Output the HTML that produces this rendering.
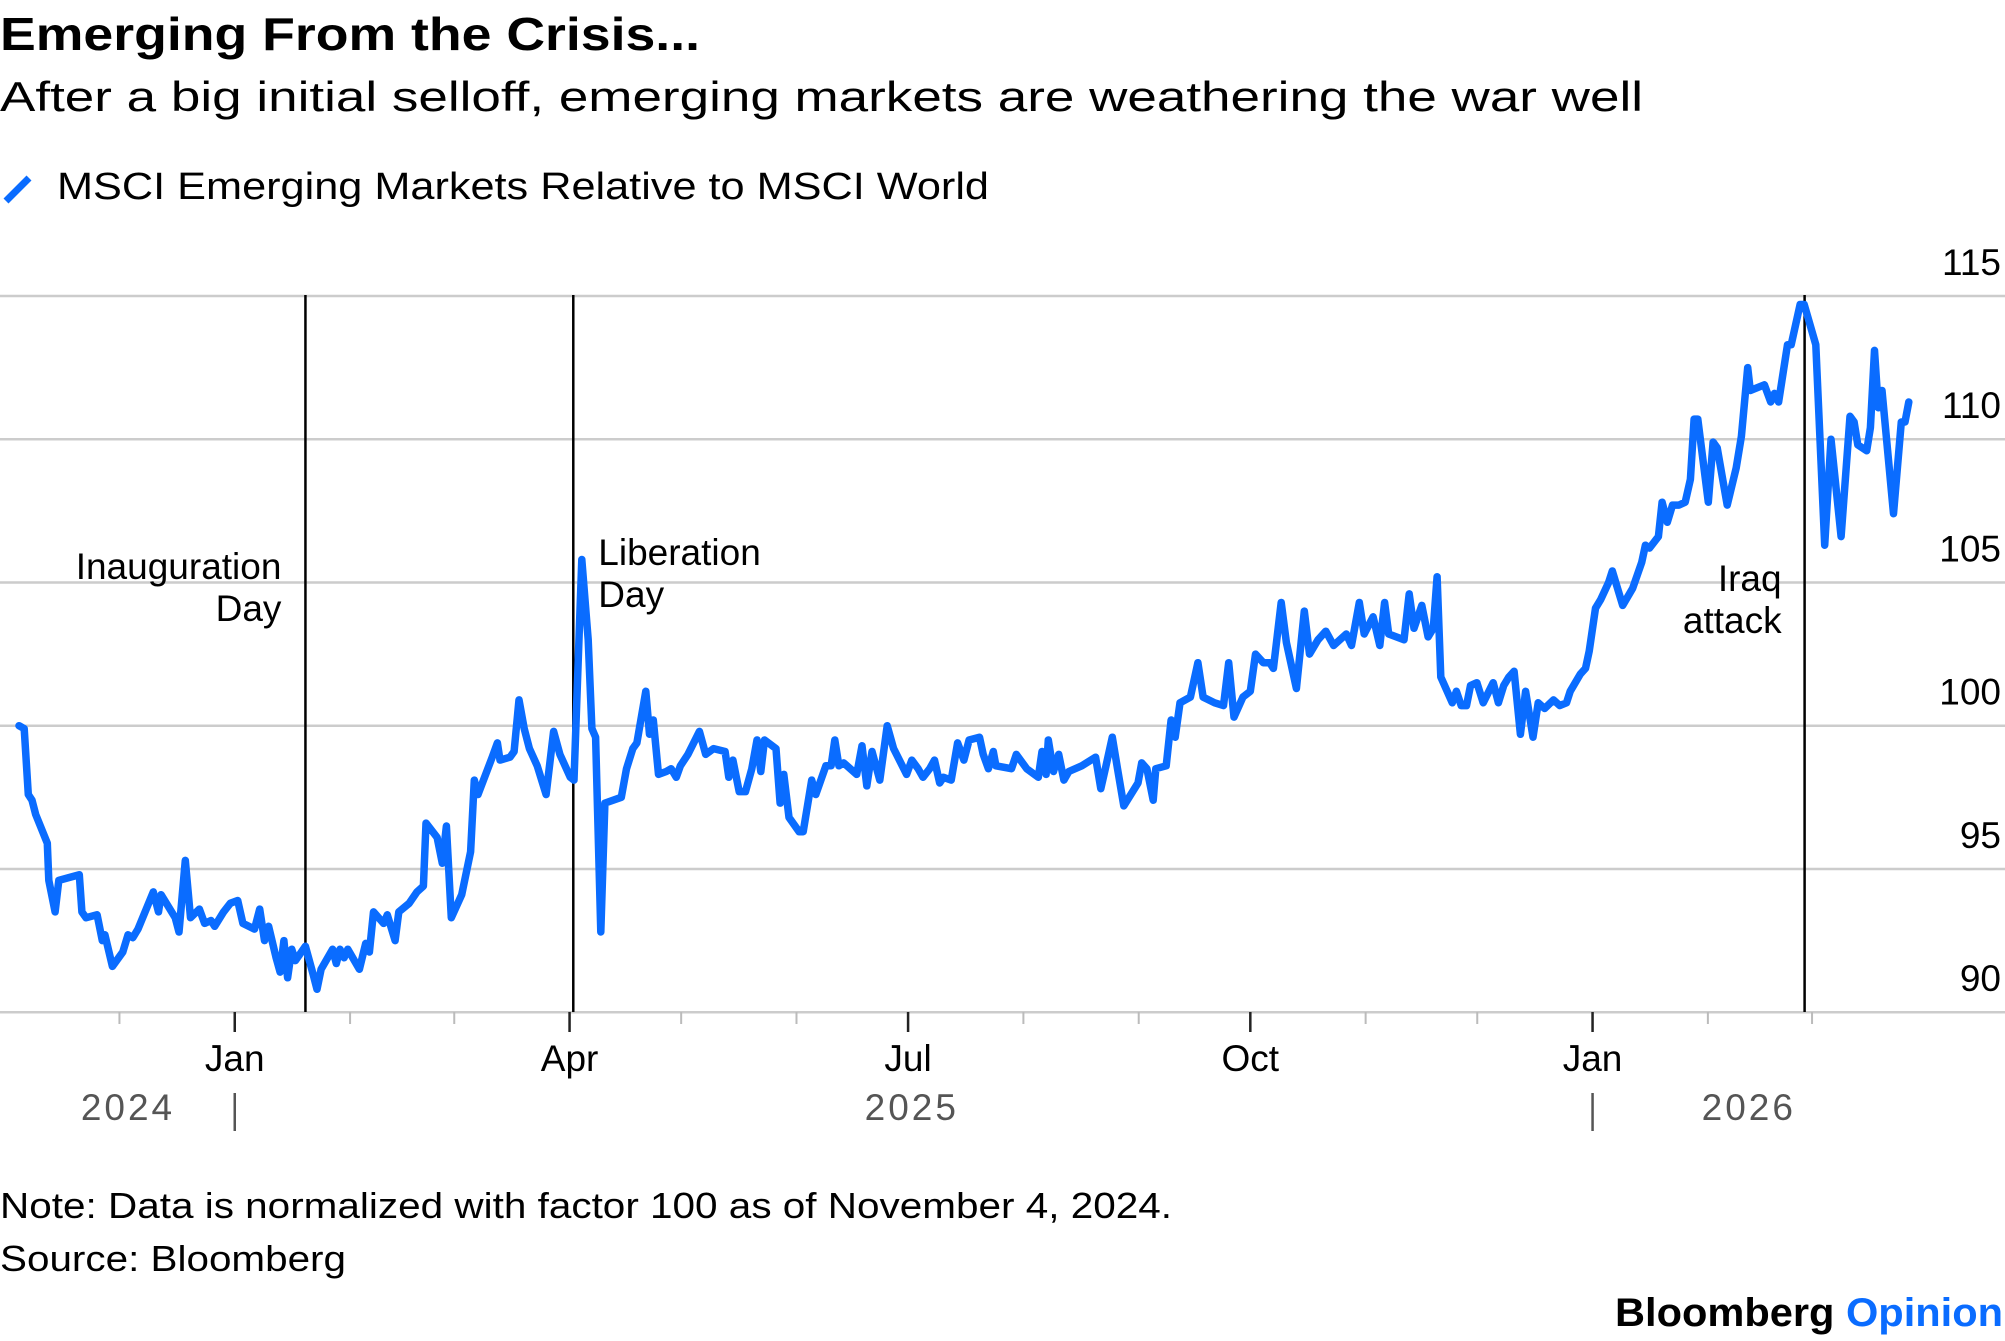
<!DOCTYPE html>
<html><head><meta charset="utf-8">
<style>
html,body{margin:0;padding:0;background:#fff;}
body{width:2005px;height:1341px;overflow:hidden;font-family:"Liberation Sans",sans-serif;}
svg{display:block;}
</style></head>
<body>
<svg id="chart" width="2005" height="1341" viewBox="0 0 2005 1341" xmlns="http://www.w3.org/2000/svg" font-family="Liberation Sans, sans-serif">
  <text x="0" y="50" font-size="46" font-weight="bold" fill="#000" textLength="700" lengthAdjust="spacingAndGlyphs">Emerging From the Crisis...</text>
  <text x="0" y="111" font-size="42" fill="#000" textLength="1643" lengthAdjust="spacingAndGlyphs">After a big initial selloff, emerging markets are weathering the war well</text>
  <g>
    <line x1="6" y1="201" x2="29" y2="178" stroke="#0a6cff" stroke-width="7"/>
    <text x="57" y="199" font-size="38" fill="#000" textLength="932" lengthAdjust="spacingAndGlyphs">MSCI Emerging Markets Relative to MSCI World</text>
  </g>
  <g id="grid"></g>
  <g id="yaxis"></g>
  <g id="xaxis"></g>
  <g id="events"></g>
  <g id="series"></g>
  <text x="0" y="1218" font-size="36" fill="#000" textLength="1172" lengthAdjust="spacingAndGlyphs">Note: Data is normalized with factor 100 as of November 4, 2024.</text>
  <text x="0" y="1271" font-size="36" fill="#000" textLength="346" lengthAdjust="spacingAndGlyphs">Source: Bloomberg</text>
  <text x="2003" y="1326" font-size="40" font-weight="bold" text-anchor="end" textLength="388" lengthAdjust="spacingAndGlyphs"><tspan fill="#000">Bloomberg </tspan><tspan fill="#0a6cff">Opinion</tspan></text>
</svg>
<script>
// data: day offset from 2024-11-04, value (normalized)
const days = [0,1.4,2.5,3.5,4.5,7.6,8,9.7,10.7,13.5,16.2,16.9,18,21,22.4,23.1,25.1,27.9,29.3,30.6,32,36.1,37.5,38.2,42,43,44.7,46.1,48.5,49.9,51.6,52.6,55,56.8,58.8,60.2,63.3,64.7,66,67.1,69.1,70.2,71.2,72.2,73.3,74.3,77,79.1,80.1,81.2,84.3,85.3,86.3,87.4,88.4,91.5,93.2,94.2,95.3,98,99,101.1,102.1,104.9,107,108.7,109.4,112.4,113.8,114.9,116.2,119,121.4,122.4,123.4,127.2,128.6,129.3,132,133.1,134.4,135.8,137.2,139.3,141.7,143.7,145.4,148.2,149.2,151.3,153,154,155,156.4,157.5,161.9,163.3,165,166.1,168.5,169.5,170.5,171.9,174,175.3,176.7,177.8,179.8,182.9,184.6,186.7,189.8,190.8,191.9,193.6,195.3,197,198.4,199.4,200.4,203.5,204.6,205.6,207,209.7,210.8,213.1,214.2,216.9,218.3,219.3,220.4,221.7,225.2,226.6,227.9,229.3,231.4,233.4,235.1,238.6,240,241.7,243,244.8,246.1,247.5,248.5,250.6,252.3,254,255.4,258.2,259.2,260.6,261.9,262.6,266.8,268.1,270.9,274,275,276.1,276.7,278.1,279.5,280.9,282.2,285.7,289.4,290.8,292.2,293.9,295.3,297,300.8,301.8,303.2,304.9,305.6,308.4,309.7,310.8,312.1,314.9,316.9,318.3,321.4,323.8,325.2,326.6,329,331,332.4,334.5,336.2,337.2,339.3,340.7,343.4,345.5,346.9,349.2,351.3,353.4,356.8,358.2,360.3,361.6,364,365.8,367.1,368.2,372.3,373.7,375,377.1,378.8,380.2,381.2,382.2,385.3,386.4,387.7,389.1,390.2,391.9,393.6,396.3,397.7,399.1,400.5,401.9,403.6,405,407,408.4,410.1,412.5,414.2,416,417,419.7,421.1,422.1,423.8,425.2,427.3,428.3,431.1,433.8,436.2,437.2,438.3,440.7,441.7,443.1,444.5,446.2,447.9,449.3,450.3,451.3,454.1,455.4,456.5,459.2,461.6,463,464.7,465.4,469.2,470.9,471.9,473,475.4,476.4,478.8,479.9,483,485.4,487.1,489.8,492.2,493.3,494.3,496.7,497.7,498.8,499.8,500.8,503.9,506,507,508];
const values = [100,99.9,97.6,97.4,96.9,95.9,94.6,93.5,94.6,94.7,94.8,93.5,93.3,93.4,92.5,92.7,91.6,92.1,92.7,92.6,92.9,94.2,93.5,94.1,93.3,92.8,95.3,93.3,93.6,93.1,93.2,93.0,93.5,93.8,93.9,93.1,92.9,93.6,92.5,93.0,91.9,91.4,92.5,91.2,92.2,91.8,92.3,91.3,90.8,91.5,92.2,91.7,92.2,91.9,92.2,91.5,92.4,92.1,93.5,93.1,93.4,92.5,93.5,93.8,94.2,94.4,96.6,96.1,95.2,96.5,93.3,94.1,95.6,98.1,97.6,98.9,99.4,98.8,98.9,99.1,100.9,99.9,99.2,98.6,97.6,99.8,99.0,98.2,98.1,105.8,103.0,99.9,99.6,92.8,97.3,97.5,98.5,99.2,99.4,101.2,99.7,100.2,98.3,98.4,98.5,98.2,98.6,99.0,99.8,99.0,99.2,99.1,98.2,98.8,97.7,97.7,98.5,99.5,98.4,99.5,99.2,97.3,98.3,96.8,96.3,96.3,98.1,97.6,98.6,98.6,99.5,98.6,98.7,98.3,99.3,97.9,99.1,98.1,100.0,99.2,98.3,98.8,98.5,98.2,98.5,98.8,98.0,98.2,98.1,99.4,98.8,99.5,99.6,99.0,98.5,99.1,98.6,98.5,99.0,98.5,98.2,99.1,98.3,99.5,98.4,99.0,98.1,98.4,98.6,98.9,97.8,98.6,99.6,98.5,97.2,98.0,98.7,98.5,97.4,98.5,98.6,100.2,99.6,100.8,101.0,102.2,101.0,100.8,100.7,102.2,100.3,101.0,101.2,102.5,102.2,102.2,102.0,104.3,102.9,101.3,104.0,102.5,103.0,103.3,102.8,103.2,102.8,104.3,103.2,103.8,102.8,104.3,103.2,103.0,104.6,103.4,104.2,103.1,103.4,105.2,101.7,100.8,101.2,100.7,100.7,101.4,101.5,100.8,101.5,100.8,101.4,101.7,101.9,99.7,101.2,99.6,100.8,100.6,100.9,100.7,100.8,101.2,101.8,102.0,102.6,104.1,104.4,105.0,105.4,104.2,104.8,105.7,106.3,106.2,106.6,107.8,107.1,107.7,107.7,107.8,108.6,110.7,110.7,107.8,109.9,109.7,107.7,109.0,110.1,112.5,111.7,111.9,111.3,111.6,111.3,113.3,113.3,114.7,114.7,113.3,106.3,110.0,106.6,110.8,110.6,109.8,109.6,110.4,113.1,111.1,111.7,107.4,110.6,110.6,111.3];
const yTicks = [90,95,100,105,110,115];
const monthTickDays = [27,58,89,117,148,178,209,239,270,301,331,362,392,423,454,482];
const monthLabels = ["","Jan","","","Apr","","","Jul","","","Oct","","","Jan","",""];
const yearLabels = ["2024","2025","2026"];
const yearLabelDays = [29.3,240,465];
const yearSepDays = [58,423];
const eventDays = [77,149,480];
const eventNames = ["Inauguration Day","Liberation Day","Iraq attack"];

const NS = "http://www.w3.org/2000/svg";
function x(d){ return 19 + d*3.72; }
function y(v){ return 725.7 - (v-100)*28.65; }
function mk(tag, attrs, parent, txt){
  const el = document.createElementNS(NS, tag);
  for (const k in attrs) el.setAttribute(k, attrs[k]);
  if (txt !== undefined) el.textContent = txt;
  parent.appendChild(el);
  return el;
}
const grid = document.getElementById('grid');
const yaxis = document.getElementById('yaxis');
yTicks.forEach(v => {
  const g = mk('line', {x1:0, x2:2005, y1:y(v), y2:y(v), stroke:'#cccccc', 'stroke-width':2.5}, grid);
  
  
  const t = mk('text', {x:2001, y:y(v)-21, 'font-size':37, 'text-anchor':'end', fill:'#000'}, yaxis, String(v));
  
  
});
const xaxis = document.getElementById('xaxis');
monthTickDays.forEach((d, i) => {
  const major = monthLabels[i] !== "";
  const tk = mk('line', {x1:x(d), x2:x(d), y1:1012, y2: major ? 1032 : 1024, stroke: major ? '#222' : '#bbb', 'stroke-width': major ? 2.5 : 2}, xaxis);
  
  
  if (major) {
    const t = mk('text', {x:x(d), y:1071, 'font-size':37, 'text-anchor':'middle', fill:'#000'}, xaxis, monthLabels[i]);
    
    
  }
});
yearLabels.forEach((lab, i) => {
  const t = mk('text', {x:x(yearLabelDays[i]), y:1120, 'font-size':37, 'text-anchor':'middle', fill:'#555', 'letter-spacing':'3'}, xaxis, lab);
  
  
});
yearSepDays.forEach(d => {
  const s = mk('line', {x1:x(d), x2:x(d), y1:1093, y2:1131, stroke:'#555', 'stroke-width':2.5}, xaxis);
  
  
});
const ev = document.getElementById('events');
eventDays.forEach((d, i) => {
  const l = mk('line', {x1:x(d), x2:x(d), y1:295, y2:1012, stroke:'#000', 'stroke-width':2.5}, ev);
  
  
});
function ann(lines, xx, y0, anchor, name){
  const t = mk('text', {'font-size':37, fill:'#000', 'text-anchor':anchor}, ev);
  
  
  lines.forEach((s, k) => mk('tspan', {x:xx, y:y0 + k*42}, t, s));
}
ann(["Inauguration","Day"], x(eventDays[0]) - 24, 579, 'end', 'annotation-inauguration-day');
ann(["Liberation","Day"], x(eventDays[1]) + 25, 565, 'start', 'annotation-liberation-day');
ann(["Iraq","attack"], x(eventDays[2]) - 23, 591, 'end', 'annotation-iraq-attack');

const series = document.getElementById('series');
const pts = days.map((d, i) => x(d).toFixed(1) + ',' + y(values[i]).toFixed(1)).join(' ');
const pl = mk('polyline', {points:pts, fill:'none', stroke:'#0a6cff', 'stroke-width':7.5, 'stroke-linejoin':'round', 'stroke-linecap':'round'}, series);


</script>
</body></html>
